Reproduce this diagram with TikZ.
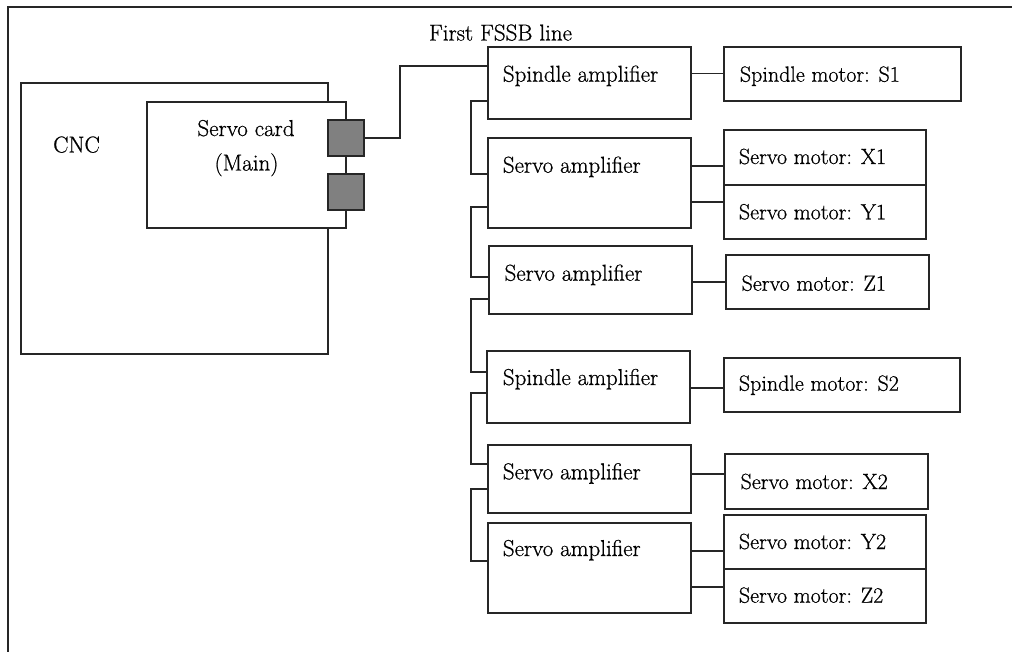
\documentclass[tikz,border=0pt]{standalone}
\usepackage{fontspec}
\setmainfont{Latin Modern Roman}[RawFeature={embolden=0.7}]
\begin{document}
\begin{tikzpicture}[x=1pt,y=-1pt,
  line width=1.2pt,
  unit/.style={draw=black!85, rectangle, inner sep=0pt, fill=white},
  port/.style={draw=black!85, rectangle, inner sep=0pt, fill=black!50,
    minimum width=36pt, minimum height=36pt},
  lbl/.style={anchor=base west, inner sep=0pt, font=\fontsize{23}{27}\selectfont},
  mlbl/.style={anchor=base west, inner sep=0pt, font=\fontsize{22}{26}\selectfont},
  clbl/.style={anchor=base, inner sep=0pt, font=\fontsize{23}{27}\selectfont},
  wire/.style={draw=black!85}]
\useasboundingbox (0,0) rectangle (1012,652);

% page frame
\draw[black!85] (8,652) -- (8,7) -- (1012,7);

% controller with its servo card and two FSSB ports
\node[unit, minimum width=307pt, minimum height=271pt] (cnc) at (174.5,218.5) {};
\node[unit, minimum width=199pt, minimum height=126pt] (card) at (246.5,165) {};
\node[port] (conA) at (346,138) {};
\node[port] (conB) at (346,192) {};
\node[clbl] (tcnc) at (76.5,152.5) {CNC};
\node[clbl] (tcard) at (246,136) {Servo card};
\node[clbl] (tmain) at (246.5,170.5) {(Main)};
\node[clbl] (tline) at (500.5,40.5) {First FSSB line};

% amplifiers
\node[unit, minimum width=203pt, minimum height=72pt] (spA1) at (589.5,83) {};
\node[unit, minimum width=203pt, minimum height=90pt] (svA1) at (589.5,183) {};
\node[unit, minimum width=203pt, minimum height=68pt] (svA2) at (590.5,280) {};
\node[unit, minimum width=203pt, minimum height=72pt] (spA2) at (588.5,387) {};
\node[unit, minimum width=203pt, minimum height=68pt] (svA3) at (589.5,479) {};
\node[unit, minimum width=203pt, minimum height=90pt] (svA4) at (589.5,568) {};

\node[lbl] (tspA1) at (502.3,81.7) {Spindle amplifier};
\node[lbl] (tsvA1) at (502.3,172.7) {Servo amplifier};
\node[lbl] (tsvA2) at (504,280.7) {Servo amplifier};
\node[lbl] (tspA2) at (502.3,385) {Spindle amplifier};
\node[lbl] (tsvA3) at (502.3,479.3) {Servo amplifier};
\node[lbl] (tsvA4) at (502.3,556) {Servo amplifier};

% motors
\node[unit, minimum width=237pt, minimum height=54pt] (mS1) at (842.5,74) {};
\node[unit, minimum width=202pt, minimum height=55pt] (mX1) at (825,157.5) {};
\node[unit, minimum width=202pt, minimum height=54pt] (mY1) at (825,212) {};
\node[unit, minimum width=203pt, minimum height=54pt] (mZ1) at (827.5,282) {};
\node[unit, minimum width=236pt, minimum height=54pt] (mS2) at (842,385) {};
\node[unit, minimum width=203pt, minimum height=55pt] (mX2) at (826.5,481.5) {};
\node[unit, minimum width=202pt, minimum height=54pt] (mY2) at (825,542) {};
\node[unit, minimum width=202pt, minimum height=54pt] (mZ2) at (825,596) {};

\node[mlbl] (tmS1) at (739.3,81.7) {Spindle motor: S1};
\node[mlbl] (tmX1) at (738.3,164) {Servo motor: X1};
\node[mlbl] (tmY1) at (738.3,219.3) {Servo motor: Y1};
\node[mlbl] (tmZ1) at (741,290.7) {Servo motor: Z1};
\node[mlbl] (tmS2) at (738.3,390.7) {Spindle motor: S2};
\node[mlbl] (tmX2) at (740,489) {Servo motor: X2};
\node[mlbl] (tmY2) at (738.3,549) {Servo motor: Y2};
\node[mlbl] (tmZ2) at (738.3,602.7) {Servo motor: Z2};

% FSSB daisy chain
\draw[wire] (conA.east) -| (400,66) -- (spA1.west |- 0,66);
\draw[wire] (spA1.west |- 0,101) -| (471,174) -- (svA1.west |- 0,174);
\draw[wire] (svA1.west |- 0,207) -| (471,277) -- (svA2.west |- 0,277);
\draw[wire] (svA2.west |- 0,299) -| (471,372) -- (spA2.west |- 0,372);
\draw[wire] (spA2.west |- 0,393) -| (471,464) -- (svA3.west |- 0,464);
\draw[wire] (svA3.west |- 0,489) -| (471,561) -- (svA4.west |- 0,561);

% amplifier to motor power lines
\draw[wire] (spA1.east |- 0,73.5) -- (mS1.west |- 0,73.5);
\draw[wire] (svA1.east |- 0,166) -- (mX1.west |- 0,166);
\draw[wire] (svA1.east |- 0,202) -- (mY1.west |- 0,202);
\draw[wire] (svA2.east |- 0,282) -- (mZ1.west |- 0,282);
\draw[wire] (spA2.east |- 0,388) -- (mS2.west |- 0,388);
\draw[wire] (svA3.east |- 0,474) -- (mX2.west |- 0,474);
\draw[wire] (svA4.east |- 0,551) -- (mY2.west |- 0,551);
\draw[wire] (svA4.east |- 0,587) -- (mZ2.west |- 0,587);
\end{tikzpicture}
\end{document}
